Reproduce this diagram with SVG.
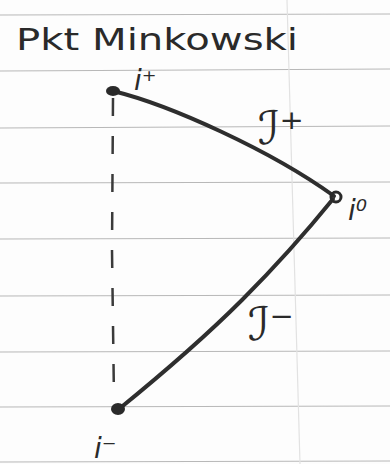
<svg xmlns="http://www.w3.org/2000/svg" width="390" height="464" viewBox="0 0 390 464">
<style>
.rule{stroke:#b8b8b8;stroke-width:1.2}
.edge{fill:none;stroke:#2e2e2e;stroke-width:4;stroke-linecap:round}
.dash{fill:none;stroke:#3a3a3a;stroke-width:2.5;stroke-dasharray:18 20}
.lbl{font-family:"DejaVu Sans","Liberation Sans",sans-serif;fill:#2a2a2a;font-style:italic}
.title{font-family:"DejaVu Sans","Liberation Sans",sans-serif;fill:#2a2a2a}
.dot{fill:#2a2a2a}
</style>
<rect width="390" height="464" fill="#fdfdfd"/>
<g id="paper">
<line class="rule" x1="0" y1="15" x2="390" y2="14"/>
<line class="rule" x1="0" y1="71" x2="390" y2="69"/>
<line class="rule" x1="0" y1="128" x2="390" y2="126"/>
<line class="rule" x1="0" y1="183" x2="390" y2="182"/>
<line class="rule" x1="0" y1="239" x2="390" y2="238"/>
<line class="rule" x1="0" y1="296" x2="390" y2="295"/>
<line class="rule" x1="0" y1="352" x2="390" y2="351"/>
<line class="rule" x1="0" y1="407" x2="390" y2="406"/>
<line class="rule" x1="0" y1="462" x2="390" y2="461"/>
<line x1="287" y1="0" x2="300" y2="464" stroke="#e2e2e2" stroke-width="1.2"/>
</g>
<text id="title" class="title" x="16" y="50" font-size="31" textLength="282" lengthAdjust="spacingAndGlyphs">Pkt Minkowski</text>
<g id="connectors">
<path class="dash" d="M113 98 L112 250 L114 400"/>
<path class="edge" d="M113 91 C170 105 270 150 334 196"/>
<path class="edge" d="M333 199 Q290 252 242 300 T119 409"/>
</g>
<g id="i-plus">
<ellipse class="dot" cx="113" cy="91" rx="7" ry="5"/>
<text class="lbl" x="134" y="90" font-size="28">i⁺</text>
</g>
<g id="i-zero">
<circle cx="336" cy="197" r="5" fill="none" stroke="#2a2a2a" stroke-width="3"/>
<text class="lbl" x="348" y="220" font-size="28">i⁰</text>
</g>
<g id="i-minus">
<ellipse class="dot" cx="118" cy="409" rx="7" ry="6"/>
<text class="lbl" x="94" y="458" font-size="28">i⁻</text>
</g>
<g id="scri-plus">
<text class="lbl" x="258" y="144" font-size="46">ℐ⁺</text>
</g>
<g id="scri-minus">
<text class="lbl" x="248" y="340" font-size="46">ℐ⁻</text>
</g>
</svg>
